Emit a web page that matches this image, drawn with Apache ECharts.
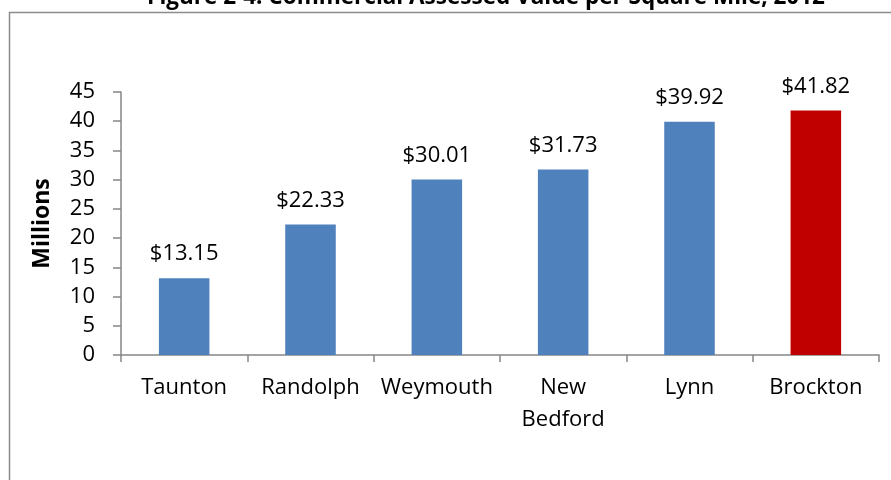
<!DOCTYPE html>
<html>
<head>
<meta charset="utf-8">
<script src="https://cdn.jsdelivr.net/npm/echarts@6/dist/echarts.min.js"></script>
<style>
  html, body { margin: 0; padding: 0; background: #fff; }
  #chart { width: 891px; height: 480px; }
</style>
</head>
<body>
<div id="chart"></div>
<script>
// data
var cities = ['Taunton', 'Randolph', 'Weymouth', 'New\nBedford', 'Lynn', 'Brockton'];
var valuePerSqMile = [13.15, 22.33, 30.01, 31.73, 39.92, 41.82];
var barColors = ['#4F81BD', '#4F81BD', '#4F81BD', '#4F81BD', '#4F81BD', '#C00000'];

var axisGray = '#868686';
var font = '"Open Sans", sans-serif';

var chart = echarts.init(document.getElementById('chart'));

var option = {
    animation: false,
    title: {
        text: 'Figure 2-4: Commercial Assessed Value per Square Mile, 2012',
        left: 481,
        textAlign: 'center',
        top: -19,
        textStyle: { fontFamily: font, fontSize: 22.5, fontWeight: 'bold', color: '#000' }
    },
    graphic: [{
        type: 'rect',
        left: 7,
        top: 10,
        shape: { width: 900, height: 500 },
        style: { fill: 'none', stroke: '#8c8c8c', lineWidth: 1.5 }
    }],
    grid: { left: 121, right: 12, top: 92, bottom: 125 },
    xAxis: {
        type: 'category',
        data: cities,
        axisLine: { lineStyle: { color: axisGray, width: 1.5 } },
        axisTick: { show: true, length: 7, lineStyle: { color: axisGray, width: 1.5 } },
        axisLabel: {
            color: '#000', fontFamily: font, fontSize: 22,
            margin: 17, lineHeight: 32, interval: 0
        }
    },
    yAxis: {
        type: 'value',
        min: 0,
        max: 45,
        interval: 5,
        name: 'Millions',
        nameLocation: 'middle',
        nameGap: 67,
        nameTextStyle: { fontFamily: font, fontSize: 23, fontWeight: 'bold', color: '#000' },
        axisLine: { show: true, lineStyle: { color: axisGray, width: 1.5 } },
        axisTick: { show: true, length: 8, lineStyle: { color: axisGray, width: 1.5 } },
        splitLine: { show: false },
        axisLabel: { color: '#000', fontFamily: font, fontSize: 22, margin: 26 }
    },
    series: [{
        type: 'bar',
        barWidth: '40%',
        data: valuePerSqMile.map(function (v, i) {
            return { value: v, itemStyle: { color: barColors[i] } };
        }),
        label: {
            show: true,
            position: 'top',
            distance: 13,
            color: '#000',
            fontFamily: font,
            fontSize: 22,
            formatter: function (p) { return '$' + p.value.toFixed(2); }
        }
    }]
};

chart.setOption(option);
</script>
</body>
</html>
